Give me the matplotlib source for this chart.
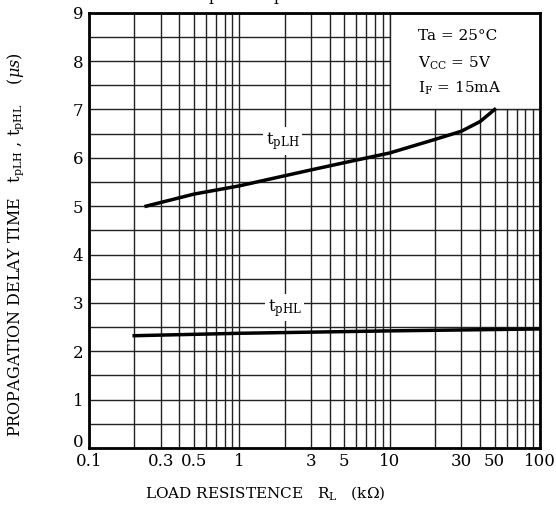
import matplotlib
matplotlib.use("Agg")
from matplotlib import pyplot as plt
from matplotlib.patches import Rectangle
from matplotlib.ticker import FixedLocator, NullFormatter
from matplotlib.transforms import ScaledTranslation

plt.rcParams.update({
    "font.family": ["DejaVu Serif"],
    "mathtext.fontset": "dejavuserif",
    "axes.linewidth": 2,
})

# load resistance (kOhm) and delay times (us)
rl_plh = [0.24, 0.5, 1, 3, 5, 10, 20, 30, 40, 50]
t_plh = [5.0, 5.25, 5.42, 5.75, 5.9, 6.1, 6.38, 6.55, 6.75, 7.0]

rl_phl = [0.2, 1, 10, 100]
t_phl = [2.32, 2.37, 2.42, 2.46]

x_ticks = [0.1, 0.3, 0.5, 1, 3, 5, 10, 30, 50, 100]
x_tick_labels = ["0.1", "0.3", "0.5", "1", "3", "5", "10", "30", "50", "100"]
y_ticks = list(range(0, 10))

fig = plt.figure(figsize=(5.56, 5.13), dpi=100)
ax = fig.add_axes([0.160, 0.127, 0.811, 0.848])

ax.set_xscale("log")
ax.set_xlim(0.1, 100)
ax.set_ylim(0, 9)

# grid: every 1..9 per decade, every 0.5 on y
minor_x = [m * 10.0 ** e for e in (-1, 0, 1) for m in range(2, 10)]
ax.xaxis.set_minor_locator(FixedLocator(minor_x))
ax.xaxis.set_minor_formatter(NullFormatter())
ax.set_xticks(x_ticks)
ax.set_xticklabels(x_tick_labels)
ax.set_yticks(y_ticks)
ax.yaxis.set_minor_locator(FixedLocator([v + 0.5 for v in range(9)]))
ax.grid(True, which="both", color="#222222", linewidth=1.0, zorder=1)
ax.set_axisbelow(True)
ax.tick_params(which="both", length=0, labelsize=12, pad=4)

# the "0" on y sits a bit higher so it clears "0.1"
lbl0 = ax.get_yticklabels()[0]
lbl0.set_transform(lbl0.get_transform() + ScaledTranslation(0, 5 / 72, fig.dpi_scale_trans))

# conditions box (blanks the grid in the corner)
box = Rectangle((10, 7), 90, 2, facecolor="white", edgecolor="#222222",
                linewidth=1.0, zorder=2)
ax.add_patch(box)
ax.text(15.5, 8.52, "Ta = 25°C", fontsize=11, va="center", zorder=3)
ax.text(15.5, 7.95, r"V$_{\rm CC}$ = 5V", fontsize=11, va="center", zorder=3)
ax.text(15.5, 7.43, r"I$_{\rm F}$ = 15mA", fontsize=11, va="center", zorder=3)

ax.plot(rl_plh, t_plh, color="black", linewidth=2.5, zorder=4)
ax.plot(rl_phl, t_phl, color="black", linewidth=2.5, zorder=4)

ax.text(1.95, 6.35, r"t$_{\rm pLH}$", fontsize=12, ha="center", va="center",
        zorder=3, bbox=dict(facecolor="white", edgecolor="none", pad=2))
ax.text(2.0, 2.9, r"t$_{\rm pHL}$", fontsize=12, ha="center", va="center",
        zorder=3, bbox=dict(facecolor="white", edgecolor="none", pad=2))

ax.set_xlabel(r"LOAD RESISTENCE   R$_{\rm L}$   (k$\Omega$)", fontsize=11,
              x=0.39, labelpad=10)
ax.set_ylabel(r"PROPAGATION DELAY TIME   t$_{\rm pLH}$ , t$_{\rm pHL}$    ($\mu s$)",
              fontsize=11.5, y=0.467, labelpad=34)

# title sits mostly above the canvas, only its subscripts show
fig.text(0.53, 1.004, r"t$_{\rm pLH}$,  t$_{\rm pHL}$   –   R$_{\rm L}$",
         fontsize=16, ha="center", va="baseline")

fig.savefig("out.png", dpi=100)
